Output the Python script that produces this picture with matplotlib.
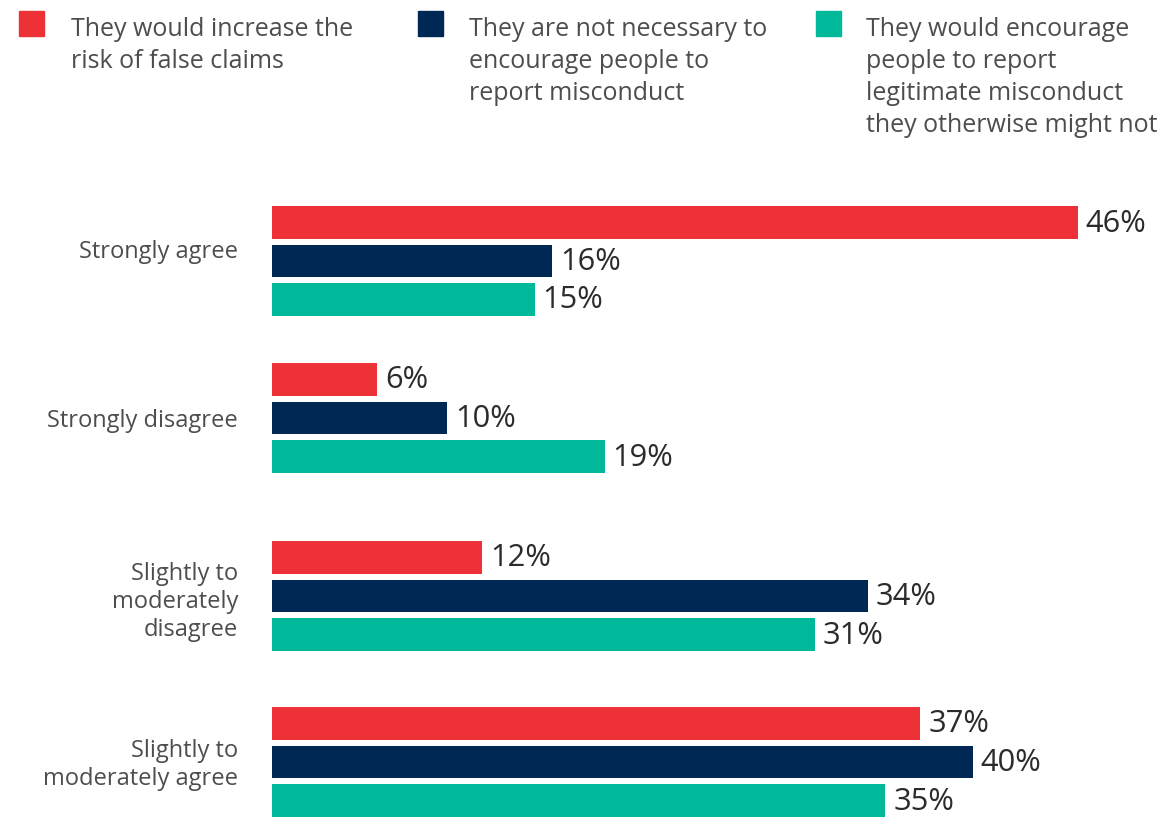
import matplotlib.pyplot as plt
from matplotlib.patches import Rectangle

categories = ["Strongly agree", "Strongly disagree",
              "Slightly to\nmoderately\ndisagree", "Slightly to\nmoderately agree"]
series_names = ["They would increase the\nrisk of false claims",
                "They are not necessary to\nencourage people to\nreport misconduct",
                "They would encourage\npeople to report\nlegitimate misconduct\nthey otherwise might not"]
false_claims = [46, 6, 12, 37]
not_necessary = [16, 10, 34, 40]
encourage = [15, 19, 31, 35]
colors = ["#EE3137", "#002855", "#00B99B"]

W, H = 1167, 817
plt.rcParams['font.family'] = ['Open Sans', 'DejaVu Sans']
fig = plt.figure(figsize=(W / 100, H / 100), dpi=100)

# axes: x=0 at pixel 272, 17.52 px per percent; y in pixel units
x0, ppu = 272, 17.52
ax = fig.add_axes([x0 / W, 0, 50 * ppu / W, 1 - 190 / H])
ax.set_xlim(0, 50)
ax.set_ylim(H, 190)

group_y = [261, 418, 596, 762]
label_y = [252, 421, 602, 765]
offsets = [-38.5, 0, 38.5]
series = [false_claims, not_necessary, encourage]

for s, (vals, off, col) in enumerate(zip(series, offsets, colors)):
    ys = [g + off for g in group_y]
    ax.barh(ys, vals, height=32.5, color=col)
    for y, v in zip(ys, vals):
        ax.text(v + 0.45, y + 1, f"{v}%", va='center', ha='left',
                fontsize=22.2, color='#2b2b2b')

for ly, cat in zip(label_y, categories):
    ax.text(-1.94, ly, cat, ha='right', va='center', ma='right',
            fontsize=17, color='#4d4d4d', linespacing=1.23)

ax.axis('off')

# legend along the top
leg_sq = [19, 418, 816]
leg_tx = [71, 469, 866]
for sx, tx, name, col in zip(leg_sq, leg_tx, series_names, colors):
    fig.add_artist(Rectangle((sx / W, 1 - 36 / H), 25 / W, 25 / H,
                             transform=fig.transFigure, color=col))
    for i, line in enumerate(name.split("\n")):
        fig.text(tx / W, 1 - (36 + 32 * i) / H, line, ha='left', va='baseline',
                 fontsize=18, color='#4d4d4d')

fig.savefig("out.png", dpi=100)
